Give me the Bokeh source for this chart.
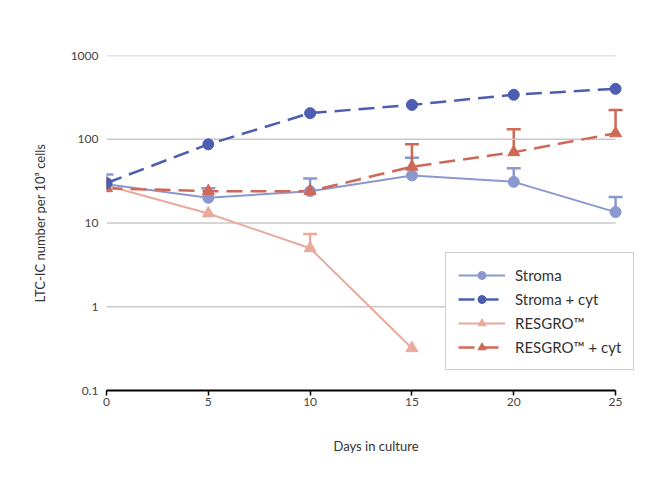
from bokeh.plotting import figure
from bokeh.models import (FixedTicker, CustomJSTickFormatter, Whisker, TeeHead,
                          ColumnDataSource, Legend, LegendItem, Range1d)
from bokeh.embed import file_html
from bokeh.resources import INLINE

# ---- data ----
days = [0, 5, 10, 15, 20, 25]
stroma = [29, 20, 24, 37, 31, 13.5]
stroma_upper = [38, 26, 34, 60, 45, 20.5]
stroma_cyt = [30, 87, 205, 257, 340, 400]

resgro_days = [0, 5, 10, 15]
resgro = [28, 13, 5.0, 0.32]
resgro_err_days = [10]
resgro_err_base = [5.0]
resgro_err_upper = [7.4]

resgro_cyt = [26, 24, 24, 47, 70, 118]
resgro_cyt_err_days = [15, 20, 25]
resgro_cyt_err_base = [47, 70, 118]
resgro_cyt_err_upper = [87, 132, 223]

y_ticks = [0.1, 1, 10, 100, 1000]
grid_values = [1, 10, 100, 1000]
x_ticks = [0, 5, 10, 15, 20, 25]
x_min, x_max = 0, 25
x_view_end = 26.47   # extra room on the right so the legend may overhang

C_STROMA = "#8a98cf"
C_STROMA_CYT = "#4d5db1"
C_RES = "#e9aa9b"
C_RES_CYT = "#d06857"
FONT = "Lato"

p = figure(width=664, height=475, y_axis_type="log",
           x_range=Range1d(x_min, x_view_end), y_range=Range1d(0.1, 1000),
           output_backend="svg", toolbar_location=None,
           min_border_left=106, min_border_right=19,
           min_border_top=55, min_border_bottom=85)
p.outline_line_color = None
p.background_fill_color = "white"
p.border_fill_color = "white"

# axes
p.xaxis.ticker = FixedTicker(ticks=x_ticks)
p.xaxis.bounds = (x_min, x_max)
p.xaxis.axis_line_color = "black"
p.xaxis.axis_line_width = 2
p.xaxis.major_tick_line_color = "black"
p.xaxis.major_tick_line_width = 1.5
p.xaxis.major_tick_out = 5
p.xaxis.major_tick_in = 0
p.xaxis.minor_tick_line_color = None
p.xaxis.major_label_standoff = 2
p.xaxis.major_label_text_font = FONT
p.xaxis.major_label_text_font_size = "12px"
p.xaxis.major_label_text_color = "#444444"
p.xaxis.axis_label = "Days in culture"
p.xaxis.axis_label_text_font = FONT
p.xaxis.axis_label_text_font_style = "normal"
p.xaxis.axis_label_text_font_size = "13px"
p.xaxis.axis_label_text_color = "#333333"
p.xaxis.axis_label_standoff = 29

p.yaxis.ticker = FixedTicker(ticks=y_ticks)
p.yaxis.formatter = CustomJSTickFormatter(
    code="return tick < 1 ? tick.toFixed(1) : tick.toFixed(0);")
p.yaxis.axis_line_color = None
p.yaxis.major_tick_line_color = None
p.yaxis.minor_tick_line_color = None
p.yaxis.major_tick_out = 0
p.yaxis.major_tick_in = 0
p.yaxis.major_label_standoff = 8
p.yaxis.major_label_text_font = FONT
p.yaxis.major_label_text_font_size = "12px"
p.yaxis.major_label_text_color = "#444444"
p.yaxis.axis_label = "LTC-IC number per 10\u00b3 cells"
p.yaxis.axis_label_text_font = FONT
p.yaxis.axis_label_text_font_style = "normal"
p.yaxis.axis_label_text_font_size = "13px"
p.yaxis.axis_label_text_color = "#333333"
p.yaxis.axis_label_standoff = 20

p.xgrid.grid_line_color = None
p.ygrid.grid_line_color = None

# horizontal grid lines limited to the data span 0..25
p.segment(x0=[x_min] * len(grid_values), x1=[x_max] * len(grid_values),
          y0=grid_values, y1=grid_values, line_color="#c8c8c8", line_width=1.5)

# lines
l_stroma = p.line(days, stroma, line_color=C_STROMA, line_width=2)
l_res = p.line(resgro_days, resgro, line_color=C_RES, line_width=2)
l_res_cyt = p.line(days, resgro_cyt, line_color=C_RES_CYT, line_width=2.5, line_dash="16 8")
l_stroma_cyt = p.line(days, stroma_cyt, line_color=C_STROMA_CYT, line_width=2.5, line_dash="16 8")

# error bars (upper only)
def add_err(xs, base, upper, color):
    src = ColumnDataSource(dict(x=xs, lo=base, hi=upper))
    w = Whisker(source=src, base="x", lower="lo", upper="hi", dimension="height",
                line_color=color, line_width=2.5,
                lower_head=None,
                upper_head=TeeHead(size=14, line_color=color, line_width=2.5))
    p.add_layout(w)

add_err(days, stroma, stroma_upper, C_STROMA)
add_err(resgro_err_days, resgro_err_base, resgro_err_upper, C_RES)
add_err(resgro_cyt_err_days, resgro_cyt_err_base, resgro_cyt_err_upper, C_RES_CYT)

# markers
m_stroma = p.scatter(days, stroma, marker="circle", size=11, color=C_STROMA)
m_res = p.scatter(resgro_days, resgro, marker="triangle", size=12, color=C_RES)
m_res_cyt = p.scatter(days, resgro_cyt, marker="triangle", size=12, color=C_RES_CYT)
m_stroma_cyt = p.scatter(days, stroma_cyt, marker="circle", size=11, color=C_STROMA_CYT)

legend = Legend(items=[
    LegendItem(label="Stroma", renderers=[l_stroma, m_stroma]),
    LegendItem(label="Stroma + cyt", renderers=[l_stroma_cyt, m_stroma_cyt]),
    LegendItem(label="RESGRO\u2122", renderers=[l_res, m_res]),
    LegendItem(label="RESGRO\u2122 + cyt", renderers=[l_res_cyt, m_res_cyt]),
], location=(339, 20))
legend.glyph_width = 47
legend.glyph_height = 20
legend.label_height = 20
legend.spacing = 4
legend.padding = 12
legend.margin = 0
legend.label_standoff = 10
legend.label_text_font = FONT
legend.label_text_font_size = "15px"
legend.label_text_color = "#333333"
legend.border_line_color = "#a0a0a0"
legend.border_line_width = 1.5
legend.background_fill_color = "white"
legend.background_fill_alpha = 1
p.add_layout(legend, "center")

open("out.html", "w").write(file_html(p, INLINE))
